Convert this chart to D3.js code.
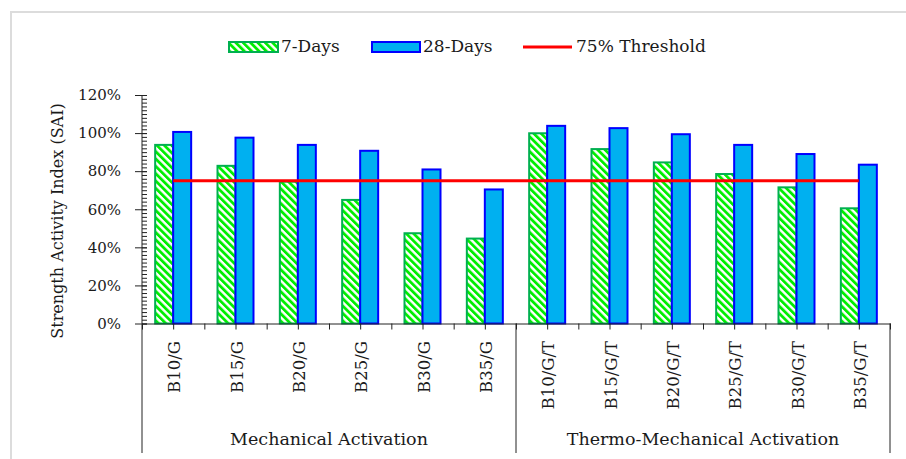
<!DOCTYPE html>
<html>
<head>
<meta charset="utf-8">
<script src="https://cdn.jsdelivr.net/npm/d3@7"></script>
<style>
  body { margin: 0; background: #fff; }
  svg { display: block; font-family: "DejaVu Serif", serif; }
</style>
</head>
<body>
<svg id="chart" width="906" height="459"></svg>
<script>
// data
var categories = ["B10/G", "B15/G", "B20/G", "B25/G", "B30/G", "B35/G",
  "B10/G/T", "B15/G/T", "B20/G/T", "B25/G/T", "B30/G/T", "B35/G/T"];
var days7 = [0.938, 0.828, 0.745, 0.649, 0.474, 0.446,
  0.999, 0.916, 0.846, 0.785, 0.715, 0.605];
var days28 = [1.006, 0.976, 0.938, 0.907, 0.809, 0.704,
  1.038, 1.026, 0.994, 0.938, 0.890, 0.834];
var threshold = 0.75;
var groups = [
  { name: "Mechanical Activation", from: 0, to: 6 },
  { name: "Thermo-Mechanical Activation", from: 6, to: 12 }
];
var yTicks = [0, 0.2, 0.4, 0.6, 0.8, 1.0, 1.2];
var seriesNames = ["7-Days", "28-Days"];

var svg = d3.select("#chart"),
  fontSize = 16.5,
  textColor = "#1a1a1a",
  margin = { top: 95, left: 142, right: 16, bottom: 135.5 },
  W = 906, H = 459;

// light frame of the figure
svg.append("path")
  .attr("d", "M11,459 L11,12 L906,12")
  .attr("fill", "none")
  .attr("stroke", "#dcdcdc")
  .attr("stroke-width", 2);

// hatch pattern for 7-day bars
var defs = svg.append("defs");
var pat = defs.append("pattern")
  .attr("id", "hatch")
  .attr("patternUnits", "userSpaceOnUse")
  .attr("width", 5.2)
  .attr("height", 5.2)
  .attr("patternTransform", "rotate(-45)");
pat.append("rect").attr("width", 5.2).attr("height", 5.2).attr("fill", "#fff");
pat.append("rect").attr("width", 2.8).attr("height", 5.2).attr("fill", "#00ee00");

var x = d3.scaleBand()
  .domain(categories)
  .range([margin.left, W - margin.right])
  .padding(0);

var xi = d3.scaleLinear()
  .domain([0, categories.length])
  .range([margin.left, W - margin.right]);

var barW = 18;
var x1 = d3.scaleBand()
  .domain(seriesNames)
  .range([x.bandwidth() / 2 - barW, x.bandwidth() / 2 + barW]);

var y = d3.scaleLinear()
  .domain([0, 1.2])
  .range([H - margin.bottom, margin.top]);

// bars
var rows = categories.map((c, i) => ({ cat: c, v: [days7[i], days28[i]] }));

var barG = svg.append("g").attr("class", "bars");
var cat = barG.selectAll("g.cat")
  .data(rows)
  .enter().append("g")
  .attr("class", "cat")
  .attr("transform", d => `translate(${x(d.cat)},0)`);

cat.append("rect")
  .attr("x", x1("7-Days"))
  .attr("y", d => y(d.v[0]))
  .attr("width", x1.bandwidth())
  .attr("height", d => y(0) - y(d.v[0]))
  .attr("fill", "url(#hatch)")
  .attr("stroke", "#00b050")
  .attr("stroke-width", 2);

cat.append("rect")
  .attr("x", x1("28-Days"))
  .attr("y", d => y(d.v[1]))
  .attr("width", x1.bandwidth())
  .attr("height", d => y(0) - y(d.v[1]))
  .attr("fill", "#00b0f0")
  .attr("stroke", "#0000ff")
  .attr("stroke-width", 2);

// threshold line from first to last category centre
svg.append("line")
  .attr("x1", x(categories[0]) + x.bandwidth() / 2)
  .attr("x2", x(categories[categories.length - 1]) + x.bandwidth() / 2)
  .attr("y1", y(threshold))
  .attr("y2", y(threshold))
  .attr("stroke", "#ff0000")
  .attr("stroke-width", 3);

// y axis: major ticks cross, minor ticks inside
var yAxis = svg.append("g")
  .attr("transform", `translate(${margin.left},0)`)
  .call(d3.axisLeft(y).tickValues(yTicks).tickSize(7).tickPadding(14)
    .tickFormat(d3.format(".0%")));
yAxis.selectAll(".tick line").attr("x1", 5).attr("stroke", "#222");
yAxis.select(".domain").remove();
yAxis.selectAll(".tick text")
  .attr("font-family", "DejaVu Serif")
  .attr("font-size", 15)
  .attr("fill", textColor);

svg.append("g")
  .attr("transform", `translate(${margin.left},0)`)
  .call(d3.axisRight(y).tickValues(d3.range(0, 61).map(d => d / 50)).tickSize(5).tickFormat(""))
  .call(g => g.select(".domain").remove())
  .selectAll(".tick line").attr("stroke", "#222");

svg.append("line")
  .attr("x1", margin.left).attr("x2", margin.left)
  .attr("y1", y(1.2)).attr("y2", y(0))
  .attr("stroke", "#222");

// x axis with ticks at every half band
var xAxis = svg.append("g")
  .attr("transform", `translate(0,${y(0)})`)
  .call(d3.axisBottom(xi).tickValues(d3.range(0, categories.length + 0.5, 0.5))
    .tickSize(6).tickSizeOuter(0).tickFormat(""));
xAxis.selectAll("line, path").attr("stroke", "#222");

// group separators
svg.append("g").selectAll("line")
  .data([0, 6, 12])
  .enter().append("line")
  .attr("x1", d => xi(d)).attr("x2", d => xi(d))
  .attr("y1", y(0)).attr("y2", 453)
  .attr("stroke", "#222");

// category labels
svg.append("g").selectAll("text")
  .data(categories)
  .enter().append("text")
  .attr("transform", d => `translate(${x(d) + x.bandwidth() / 2 + 7},341) rotate(-90)`)
  .attr("text-anchor", "end")
  .attr("font-size", fontSize)
  .attr("fill", textColor)
  .text(d => d);

// group labels
svg.append("g").selectAll("text")
  .data(groups)
  .enter().append("text")
  .attr("x", d => (xi(d.from) + xi(d.to)) / 2)
  .attr("y", 445)
  .attr("text-anchor", "middle")
  .attr("font-size", 17.5)
  .attr("fill", textColor)
  .text(d => d.name);

// y axis title
svg.append("text")
  .attr("transform", "translate(63,221) rotate(-90)")
  .attr("text-anchor", "middle")
  .attr("font-size", 16)
  .attr("fill", textColor)
  .text("Strength Activity Index (SAI)");

// legend
var legend = svg.append("g").attr("font-size", 17).attr("fill", textColor);
legend.append("rect").attr("x", 229).attr("y", 42).attr("width", 49).attr("height", 10)
  .attr("fill", "url(#hatch)").attr("stroke", "#00b050").attr("stroke-width", 2);
legend.append("text").attr("x", 281).attr("y", 52).text(seriesNames[0]);
legend.append("rect").attr("x", 372).attr("y", 42).attr("width", 48).attr("height", 10)
  .attr("fill", "#00b0f0").attr("stroke", "#0000ff").attr("stroke-width", 2);
legend.append("text").attr("x", 423).attr("y", 52).text(seriesNames[1]);
legend.append("line").attr("x1", 523).attr("x2", 572).attr("y1", 47).attr("y2", 47)
  .attr("stroke", "#ff0000").attr("stroke-width", 3);
legend.append("text").attr("x", 576).attr("y", 52).text("75% Threshold");
</script>
</body>
</html>
